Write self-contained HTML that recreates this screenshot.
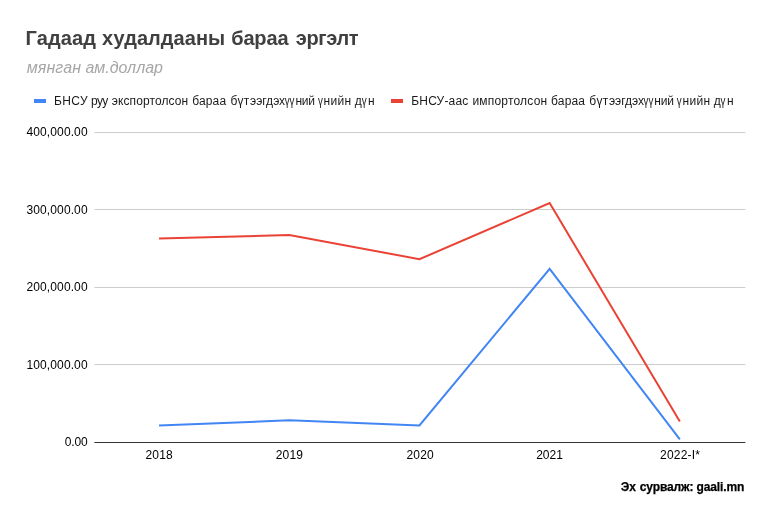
<!DOCTYPE html>
<html><head><meta charset="utf-8">
<title>Гадаад худалдааны бараа эргэлт</title>
<style>
html,body{margin:0;padding:0;background:#fff;}
svg{display:block;}
text{font-family:"Liberation Sans",Arial,sans-serif;white-space:pre;}
</style></head><body>
<svg width="771" height="520" viewBox="0 0 771 520">
<rect x="0" y="0" width="771" height="520" fill="#ffffff"/>
<text y="0" font-size="20" transform="translate(0,45) scale(1,1.03)" font-weight="bold" fill="#404040"><tspan x="25.62" letter-spacing="0.100">Гадаад </tspan><tspan x="102.08" letter-spacing="0.060">худалдааны </tspan><tspan x="231.20" letter-spacing="-0.150">бараа </tspan><tspan x="295.80" letter-spacing="-0.360">эргэлт</tspan></text>
<text y="73" font-size="16" font-style="italic" fill="#a6a6a6"><tspan x="26.75" letter-spacing="0.100">мянган </tspan><tspan x="85.42">ам.доллар</tspan></text>
<rect x="34" y="99" width="12" height="4" fill="#4285f4"/>
<text y="105" font-size="12" fill="#1a1a1a"><tspan x="53.90" letter-spacing="0.450">БНСУ </tspan><tspan x="91.00" letter-spacing="-0.600">руу </tspan><tspan x="111.83" letter-spacing="0.089">экспортолсон </tspan><tspan x="192.15" letter-spacing="0.175">бараа </tspan><tspan x="230.40" letter-spacing="0.300">бүт</tspan><tspan x="250.08" letter-spacing="-0.037">ээгдэх</tspan><tspan x="284.70" textLength="9.8" lengthAdjust="spacingAndGlyphs">үү</tspan><tspan x="295.45" letter-spacing="-0.250">ний </tspan><tspan x="317.95" textLength="4.9" lengthAdjust="spacingAndGlyphs">ү</tspan><tspan x="323.62" letter-spacing="0.300">нийн </tspan><tspan x="354.83">д</tspan><tspan x="361.70" textLength="4.9" lengthAdjust="spacingAndGlyphs">ү</tspan><tspan x="368.12">н</tspan></text>
<rect x="391" y="99" width="12" height="4" fill="#ea4335"/>
<text y="105" font-size="12" fill="#1a1a1a"><tspan x="411.20" letter-spacing="0.200">БНСУ-аас </tspan><tspan x="472.40" letter-spacing="0.200">импортолсон </tspan><tspan x="551.05" letter-spacing="0.175">бараа </tspan><tspan x="589.30" letter-spacing="0.300">бүт</tspan><tspan x="608.98" letter-spacing="-0.037">ээгдэх</tspan><tspan x="643.60" textLength="9.8" lengthAdjust="spacingAndGlyphs">үү</tspan><tspan x="654.35" letter-spacing="-0.250">ний </tspan><tspan x="676.85" textLength="4.9" lengthAdjust="spacingAndGlyphs">ү</tspan><tspan x="682.52" letter-spacing="0.300">нийн </tspan><tspan x="713.73">д</tspan><tspan x="720.60" textLength="4.9" lengthAdjust="spacingAndGlyphs">ү</tspan><tspan x="727.02">н</tspan></text>
<g fill="#cccccc">
<rect x="94.4" y="132" width="651" height="1"/>
<rect x="94.4" y="209" width="651" height="1"/>
<rect x="94.4" y="287" width="651" height="1"/>
<rect x="94.4" y="364" width="651" height="1"/>
</g>
<rect x="94.4" y="442" width="651" height="1" fill="#333333"/>
<g font-size="12" fill="#000000" text-anchor="end" letter-spacing="0.11">
<text x="87.7" y="136">400,000.00</text>
<text x="87.7" y="214">300,000.00</text>
<text x="87.7" y="291">200,000.00</text>
<text x="87.7" y="369">100,000.00</text>
<text x="87.6" y="446" letter-spacing="-0.1">0.00</text>
</g>
<g font-size="12" fill="#000000" text-anchor="middle" letter-spacing="0.2">
<text x="159.2" y="458.8">2018</text>
<text x="289.4" y="458.8">2019</text>
<text x="420.2" y="458.8">2020</text>
<text x="549.5" y="458.8" letter-spacing="0">2021</text>
<text x="680.1" y="458.8">2022-I*</text>
</g>
<path d="M159.05,425.5L289.25,420.3L419.45,425.5L549.65,268.8L679.85,439.3" fill="none" stroke="#4285f4" stroke-width="2"/>
<path d="M159.05,238.6L289.25,235.0L419.45,259.2L549.65,203.05L679.85,421.6" fill="none" stroke="#ea4335" stroke-width="2"/>
<text y="491" font-size="12" font-weight="bold" fill="#000000" stroke="#000000" stroke-width="0.25"><tspan x="620.70">Эх </tspan><tspan x="639.80" letter-spacing="-0.130">сурвалж: </tspan><tspan x="696.50" letter-spacing="-0.130">gaali.mn</tspan></text>
</svg>
</body></html>
